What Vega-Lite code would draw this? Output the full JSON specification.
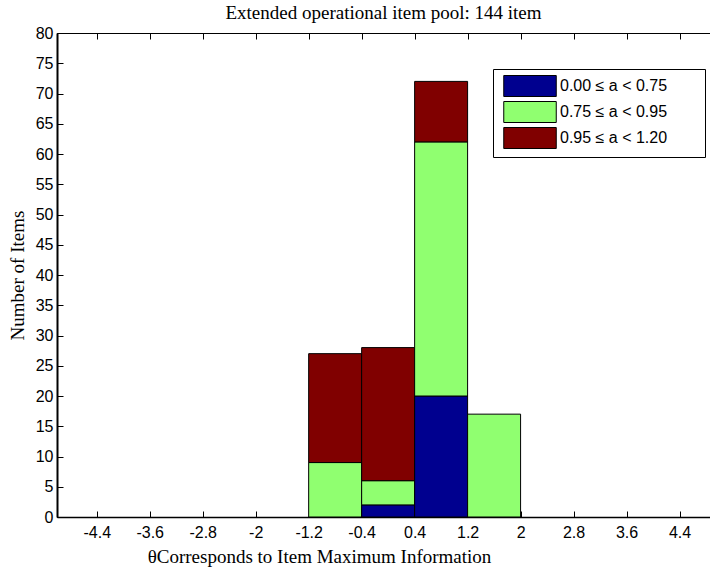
{
  "$schema": "https://vega.github.io/schema/vega-lite/v6.json",
  "autosize": {"type": "none"},
  "width": 653,
  "height": 484,
  "padding": {"left": 57, "top": 33, "right": 0, "bottom": 51},
  "background": "white",
  "title": {
    "text": "Extended operational item pool: 144 item",
    "font": "Liberation Serif",
    "fontSize": 19,
    "fontWeight": "normal",
    "color": "black",
    "offset": 2,
    "anchor": "middle"
  },
  "config": {
    "view": {"stroke": "black", "strokeWidth": 1},
    "axis": {
      "grid": false,
      "labelFont": "Liberation Sans",
      "labelFontSize": 16,
      "labelColor": "black",
      "tickColor": "black",
      "domainColor": "black",
      "titleFont": "Liberation Serif",
      "titleFontSize": 19,
      "titleFontWeight": "normal",
      "titleColor": "black"
    }
  },
  "data": {
    "values": [
      {"lo": -1.2, "hi": -0.4, "grp": "0.75 ≤ a < 0.95", "n": 9, "ord": 2},
      {"lo": -1.2, "hi": -0.4, "grp": "0.95 ≤ a < 1.20", "n": 18, "ord": 3},
      {"lo": -0.4, "hi": 0.4, "grp": "0.00 ≤ a < 0.75", "n": 2, "ord": 1},
      {"lo": -0.4, "hi": 0.4, "grp": "0.75 ≤ a < 0.95", "n": 4, "ord": 2},
      {"lo": -0.4, "hi": 0.4, "grp": "0.95 ≤ a < 1.20", "n": 22, "ord": 3},
      {"lo": 0.4, "hi": 1.2, "grp": "0.00 ≤ a < 0.75", "n": 20, "ord": 1},
      {"lo": 0.4, "hi": 1.2, "grp": "0.75 ≤ a < 0.95", "n": 42, "ord": 2},
      {"lo": 0.4, "hi": 1.2, "grp": "0.95 ≤ a < 1.20", "n": 10, "ord": 3},
      {"lo": 1.2, "hi": 2.0, "grp": "0.75 ≤ a < 0.95", "n": 17, "ord": 2}
    ]
  },
  "layer": [
    {
      "transform": [
        {"stack": "n", "groupby": ["lo"], "sort": [{"field": "ord", "order": "ascending"}], "as": ["y0", "y1"]}
      ],
      "mark": {"type": "rect", "stroke": "black", "strokeWidth": 1},
      "encoding": {
        "x": {
          "field": "lo",
          "type": "quantitative",
          "scale": {"domain": [-5, 4.86], "nice": false, "zero": false},
          "axis": {
            "values": [-4.4, -3.6, -2.8, -2, -1.2, -0.4, 0.4, 1.2, 2, 2.8, 3.6, 4.4],
            "labelExpr": "'' + datum.value",
            "tickSize": -6,
            "labelPadding": 13,
            "domainWidth": 1.5,
            "title": "θCorresponds to Item Maximum Information",
            "titlePadding": 7,
            "titleX": 262
          }
        },
        "x2": {"field": "hi"},
        "y": {
          "field": "y0",
          "type": "quantitative",
          "scale": {"domain": [0, 80], "nice": false},
          "axis": {
            "values": [0, 5, 10, 15, 20, 25, 30, 35, 40, 45, 50, 55, 60, 65, 70, 75, 80],
            "tickSize": -6,
            "labelPadding": 10,
            "domainWidth": 2,
            "title": "Number of Items",
            "titlePadding": 8
          }
        },
        "y2": {"field": "y1"},
        "color": {
          "field": "grp",
          "type": "nominal",
          "scale": {
            "domain": ["0.00 ≤ a < 0.75", "0.75 ≤ a < 0.95", "0.95 ≤ a < 1.20"],
            "range": ["#00008F", "#90FF70", "#800000"]
          },
          "legend": {
            "orient": "none",
            "legendX": 436,
            "legendY": 36,
            "title": null,
            "strokeColor": "black",
            "fillColor": "white",
            "padding": 6,
            "symbolType": "M-2.5,-1H2.5V1H-2.5Z",
            "symbolSize": 441,
            "symbolStrokeColor": "black",
            "symbolStrokeWidth": 1,
            "symbolOpacity": 1,
            "symbolOffset": 20,
            "labelOffset": 19,
            "labelFont": "Liberation Sans",
            "labelFontSize": 16,
            "labelColor": "black",
            "rowPadding": 0,
            "labelLimit": 250,
            "labelExpr": "datum.label + '\u00a0\u00a0\u00a0\u00a0\u00a0\u00a0\u00a0\u200b'"
          }
        }
      }
    },
    {
      "mark": {"type": "rule", "opacity": 0},
      "encoding": {
        "x": {
          "field": "lo",
          "type": "quantitative",
          "scale": {"domain": [-5, 4.86], "nice": false, "zero": false},
          "axis": {
            "orient": "top",
            "values": [-4.4, -3.6, -2.8, -2, -1.2, -0.4, 0.4, 1.2, 2, 2.8, 3.6, 4.4],
            "labels": false,
            "tickSize": -6,
            "domainWidth": 1,
            "title": null
          }
        }
      }
    }
  ],
  "resolve": {"axis": {"x": "independent"}}
}
